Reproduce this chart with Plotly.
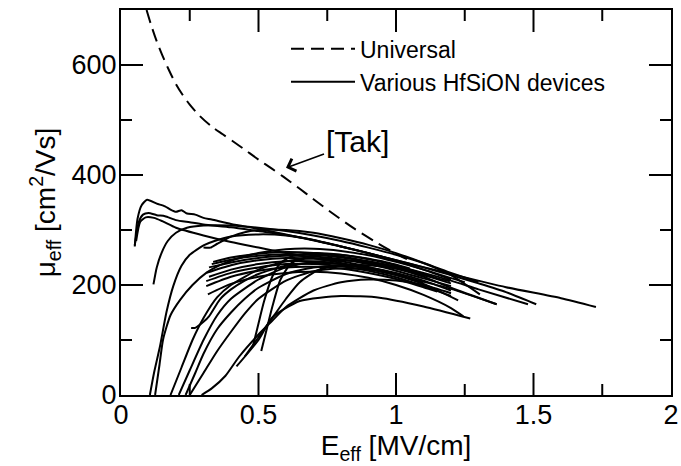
import plotly.graph_objects as go

# ---------------- data ----------------
universal_E = [0.093, 0.11, 0.13, 0.15, 0.175, 0.2, 0.225, 0.25, 0.287, 0.33, 0.37, 0.408, 0.45, 0.5, 0.55, 0.59,
               0.65, 0.7, 0.77, 0.85, 0.93, 1.0, 1.04]
universal_mu = [700, 672, 643, 618, 590, 565, 545, 528, 507, 488, 474, 461, 446, 428, 411, 397,
                375, 356, 330, 302, 277, 257, 247]

d01_E = [0.05, 0.06, 0.075, 0.095, 0.13, 0.16, 0.18, 0.2, 0.22, 0.24, 0.27, 0.3, 0.33, 0.4, 0.5, 0.6, 0.8, 1.0, 1.2, 1.4, 1.6, 1.727]
d01_mu = [270, 320, 345, 355, 348, 343, 337, 333, 336, 330, 328, 322, 319, 311, 302, 292, 270, 245, 220, 196, 176, 160]
d02_E = [0.05, 0.065, 0.08, 0.1, 0.13, 0.16, 0.2, 0.25, 0.3, 0.4, 0.5, 0.6, 0.7, 0.8, 0.9, 1.0, 1.1, 1.2, 1.3, 1.4, 1.51]
d02_mu = [272, 315, 328, 331, 327, 325, 318, 314, 310, 305, 298, 291, 282, 270, 258, 245, 232, 218, 203, 187, 165]
d03_E = [0.055, 0.07, 0.09, 0.12, 0.15, 0.2, 0.3, 0.4, 0.5, 0.6, 0.8, 1.0, 1.2, 1.366]
d03_mu = [280, 315, 323, 322, 316, 304, 290, 278, 268, 258, 240, 218, 193, 165]
d04_E = [0.118, 0.13, 0.148, 0.17, 0.2, 0.24, 0.3, 0.4, 0.5, 0.6, 0.7, 0.8, 0.9, 1.0, 1.1, 1.2, 1.3]
d04_mu = [201, 232, 259, 280, 295, 304, 308, 308, 304, 298, 290, 280, 268, 255, 240, 222, 205]
d05_E = [0.105, 0.12, 0.142, 0.165, 0.19, 0.22, 0.25, 0.3, 0.34, 0.4, 0.5, 0.6, 0.7, 0.8, 0.9, 1.0, 1.1, 1.2]
d05_mu = [0, 40, 89, 150, 198, 235, 255, 272, 280, 288, 292, 290, 282, 270, 258, 244, 228, 210]
d06_E = [0.124, 0.14, 0.153, 0.18, 0.215, 0.26, 0.31, 0.36, 0.41, 0.5, 0.6, 0.7, 0.8, 0.9, 1.0, 1.1, 1.25]
d06_mu = [0, 55, 101, 145, 173, 200, 222, 236, 246, 258, 265, 266, 262, 254, 242, 228, 205]
d07_E = [0.3, 0.325, 0.35, 0.4, 0.45, 0.5, 0.6, 0.7, 0.8, 0.9, 1.0, 1.1, 1.2, 1.305]
d07_mu = [268, 268, 275, 288, 296, 300, 300, 295, 285, 273, 258, 240, 218, 183]
d08_E = [0.255, 0.27, 0.3, 0.32, 0.36, 0.4, 0.45, 0.5, 0.6, 0.7, 0.8, 0.9, 1.0, 1.1, 1.2]
d08_mu = [122, 122, 133, 143, 174, 192, 208, 220, 235, 240, 238, 232, 222, 208, 190]
d09_E = [0.335, 0.4, 0.5, 0.6, 0.7, 0.8, 0.9, 1.0, 1.1, 1.196]
d09_mu = [242, 250, 257, 260, 258, 252, 243, 232, 218, 207]
d10_E = [0.33, 0.4, 0.5, 0.6, 0.7, 0.8, 0.9, 1.0, 1.1, 1.15]
d10_mu = [238, 246, 253, 256, 255, 250, 242, 232, 220, 212]
d11_E = [0.32, 0.4, 0.5, 0.6, 0.7, 0.8, 0.9, 1.0, 1.1, 1.2]
d11_mu = [232, 241, 249, 253, 252, 247, 238, 226, 212, 198]
d12_E = [0.31, 0.4, 0.5, 0.6, 0.7, 0.8, 0.9, 1.0, 1.1, 1.226]
d12_mu = [222, 236, 245, 249, 248, 243, 233, 220, 202, 172]
d13_E = [0.32, 0.4, 0.5, 0.6, 0.7, 0.8, 0.9, 1.0, 1.1]
d13_mu = [215, 228, 238, 243, 243, 238, 230, 218, 202]
d14_E = [0.31, 0.4, 0.5, 0.6, 0.7, 0.8, 0.9, 1.0, 1.1, 1.2]
d14_mu = [207, 222, 232, 238, 238, 234, 226, 214, 198, 180]
d15_E = [0.31, 0.4, 0.5, 0.6, 0.7, 0.8, 0.9, 1.0, 1.1, 1.15]
d15_mu = [198, 215, 226, 232, 233, 230, 222, 211, 196, 188]
d16_E = [0.316, 0.4, 0.5, 0.6, 0.7, 0.8, 0.9, 1.0, 1.1, 1.2, 1.245]
d16_mu = [183, 202, 215, 222, 224, 221, 213, 200, 182, 158, 143]
d17_E = [0.18, 0.22, 0.26, 0.3, 0.35, 0.4, 0.5, 0.6, 0.7, 0.8, 0.9, 1.0, 1.1, 1.2, 1.366]
d17_mu = [0, 50, 100, 140, 178, 200, 228, 243, 248, 246, 240, 230, 215, 195, 165]
d18_E = [0.21, 0.25, 0.3, 0.35, 0.4, 0.5, 0.6, 0.7, 0.8, 0.9, 1.0, 1.1, 1.2, 1.3, 1.48]
d18_mu = [0, 45, 100, 145, 175, 210, 232, 242, 245, 242, 234, 222, 208, 192, 165]
d19_E = [0.235, 0.27, 0.3, 0.35, 0.4, 0.45, 0.5, 0.6, 0.7, 0.8, 0.9, 1.0, 1.1]
d19_mu = [0, 40, 75, 120, 150, 175, 195, 220, 232, 235, 230, 220, 205]
d20_E = [0.25, 0.3, 0.35, 0.4, 0.45, 0.5, 0.6, 0.7, 0.8, 0.9, 1.0]
d20_mu = [0, 40, 80, 115, 148, 175, 208, 225, 230, 228, 220]
d21_E = [0.293, 0.33, 0.38, 0.43, 0.5, 0.55, 0.6, 0.7, 0.8, 0.9, 1.0, 1.1, 1.2]
d21_mu = [0, 12, 35, 70, 110, 135, 160, 190, 205, 210, 208, 200, 185]
d22_E = [0.48, 0.5, 0.52, 0.55, 0.58, 0.62, 0.7, 0.8, 0.9, 1.0, 1.1]
d22_mu = [89, 130, 170, 215, 240, 252, 258, 255, 247, 236, 220]
d23_E = [0.51, 0.53, 0.55, 0.58, 0.62, 0.68, 0.75, 0.85, 0.95, 1.05]
d23_mu = [80, 120, 160, 210, 240, 252, 256, 252, 243, 230]
d24_E = [0.45, 0.5, 0.55, 0.6, 0.65, 0.72, 0.8, 0.9, 1.0, 1.1, 1.2]
d24_mu = [70, 105, 140, 175, 205, 228, 236, 236, 230, 218, 203]
d25_E = [0.42, 0.5, 0.55, 0.65, 0.8, 0.94, 1.1, 1.27]
d25_mu = [52, 100, 141, 171, 180, 177, 161, 139]

device_E = [d01_E, d02_E, d03_E, d04_E, d05_E, d06_E, d07_E, d08_E, d09_E, d10_E, d11_E, d12_E, d13_E,
            d14_E, d15_E, d16_E, d17_E, d18_E, d19_E, d20_E, d21_E, d22_E, d23_E, d24_E, d25_E]
device_mu = [d01_mu, d02_mu, d03_mu, d04_mu, d05_mu, d06_mu, d07_mu, d08_mu, d09_mu, d10_mu, d11_mu, d12_mu, d13_mu,
             d14_mu, d15_mu, d16_mu, d17_mu, d18_mu, d19_mu, d20_mu, d21_mu, d22_mu, d23_mu, d24_mu, d25_mu]

legend_names = ["Universal", "Various HfSiON devices"]
x_range = [0, 2]
y_range = [0, 700]
x_major_ticks = [0.5, 1, 1.5]
x_minor_ticks = [0.25, 0.75, 1.25, 1.75]
y_major_ticks = [200, 400, 600]
y_minor_ticks = [100, 300, 500]

FONT = "Liberation Sans, Arial, sans-serif"
W, H = 681, 466
M = dict(l=121, r=10, t=10, b=71)
PLOT_W = W - M["l"] - M["r"]
PLOT_H = H - M["t"] - M["b"]
MAJOR_LEN, MINOR_LEN = 22, 11

fig = go.Figure()
fig.add_trace(go.Scatter(x=universal_E, y=universal_mu, mode="lines", name=legend_names[0],
                         line=dict(color="black", width=2, dash="13px,7px", shape="spline", smoothing=0.8)))
for i, (e, m) in enumerate(zip(device_E, device_mu)):
    fig.add_trace(go.Scatter(x=e, y=m, mode="lines", name=legend_names[1], showlegend=(i == 0),
                             line=dict(color="black", width=2, shape="spline", smoothing=0.6)))

# inward tick marks on all four sides, built from the tick values and the axis scales
xspan = x_range[1] - x_range[0]
yspan = y_range[1] - y_range[0]
tx, ty = [], []
for vals, ln in ((x_major_ticks, MAJOR_LEN), (x_minor_ticks, MINOR_LEN)):
    dy = ln / PLOT_H * yspan
    for v in vals:
        tx += [v, v, None, v, v, None]
        ty += [y_range[0], y_range[0] + dy, None, y_range[1], y_range[1] - dy, None]
for vals, ln in ((y_major_ticks, MAJOR_LEN), (y_minor_ticks, MINOR_LEN)):
    dx = ln / PLOT_W * xspan
    for v in vals:
        tx += [x_range[0], x_range[0] + dx, None, x_range[1], x_range[1] - dx, None]
        ty += [v, v, None, v, v, None]
fig.add_trace(go.Scatter(x=tx, y=ty, mode="lines", showlegend=False, hoverinfo="skip",
                         line=dict(color="black", width=2), connectgaps=False, cliponaxis=False))

fig.add_annotation(x=0.6, y=413, text="[Tak]", showarrow=True, ax=71, ay=-26,
                   arrowhead=4, arrowsize=1.6, arrowwidth=1.6, arrowcolor="black",
                   font=dict(size=30, color="black", family=FONT))

axis_common = dict(showline=True, linecolor="black", linewidth=2, mirror=True, ticks="",
                   showgrid=False, zeroline=False, tickmode="linear", tick0=0,
                   tickfont=dict(size=27, color="black", family=FONT))

fig.update_layout(
    template="none",
    xaxis=dict(range=x_range, dtick=0.5, ticklabelstandoff=-5,
               title=dict(text="E<sub>eff</sub> [MV/cm]", font=dict(size=28, color="black", family=FONT), standoff=2),
               **axis_common),
    yaxis=dict(range=y_range, dtick=200, ticklabelstandoff=-3,
               title=dict(text="μ<sub>eff</sub> [cm<sup>2</sup>/Vs]", font=dict(size=28, color="black", family=FONT), standoff=8),
               **axis_common),
)

fig.update_layout(width=W, height=H, margin=dict(**M, autoexpand=False),
                  paper_bgcolor="white", plot_bgcolor="white",
                  font=dict(family=FONT, color="black"),
                  legend=dict(x=0.30, y=0.955, xanchor="left", yanchor="top", bgcolor="rgba(0,0,0,0)",
                              font=dict(size=23, color="black", family=FONT), tracegroupgap=0, itemwidth=64),
                  showlegend=True)

fig.write_html("out.html")
